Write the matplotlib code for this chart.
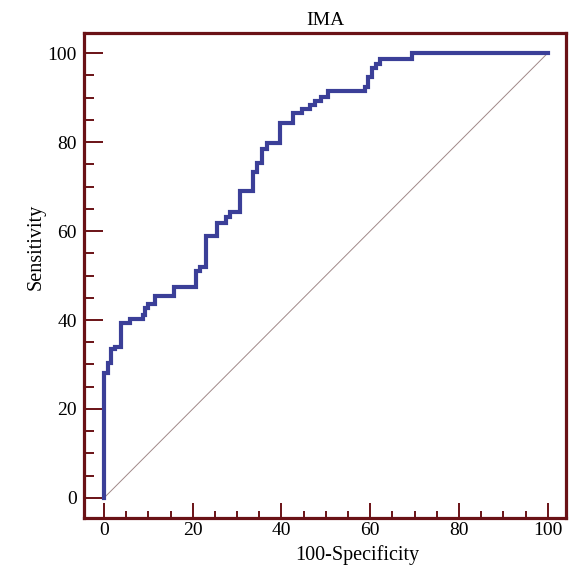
import matplotlib.pyplot as plt
from matplotlib.ticker import MultipleLocator

plt.rcParams['font.family'] = ['Liberation Serif', 'DejaVu Serif']

# ROC curve corner points (100-Specificity, Sensitivity), step drawn "post"
fpr = [0, 0, 1.0, 1.7, 2.6, 3.8, 5.9, 8.7, 9.2, 10.0, 11.5, 15.8, 20.7, 21.6,
       23.1, 25.5, 27.5, 28.4, 30.6, 33.5, 34.5, 35.6, 36.8, 39.6, 42.5, 44.7,
       46.4, 47.5, 48.8, 50.5, 58.8, 59.5, 60.5, 61.4, 62.3, 69.5, 100]
tpr = [0, 28.0, 30.3, 33.5, 34.0, 39.4, 40.2, 41.1, 42.8, 43.6, 45.4, 47.5, 51.0, 51.9,
       58.9, 61.9, 63.1, 64.3, 69.0, 73.3, 75.2, 78.4, 79.7, 84.3, 86.6, 87.4,
       88.3, 89.3, 90.2, 91.5, 92.4, 94.5, 96.6, 97.5, 98.6, 100, 100]
ref_line = [0, 100]
ticks = [0, 20, 40, 60, 80, 100]

spine_col = '#6a1216'

fig = plt.figure(figsize=(5.76, 5.71), dpi=100)
ax = fig.add_axes([0.1458, 0.0928, 0.8368, 0.8494])

ax.plot(ref_line, ref_line, color='#a08888', linewidth=0.7)
ax.plot(fpr, tpr, drawstyle='steps-post', color='#3b3f98', linewidth=3.0,
        solid_joinstyle='miter')

ax.set_xlim(-4.5, 104.1)
ax.set_ylim(-4.5, 104.5)
ax.set_xticks(ticks)
ax.set_yticks(ticks)
ax.xaxis.set_minor_locator(MultipleLocator(5))
ax.yaxis.set_minor_locator(MultipleLocator(5))

for s in ax.spines.values():
    s.set_color(spine_col)
    s.set_linewidth(2.3)

ax.tick_params(axis='both', which='both', direction='in', color=spine_col,
               width=1.4, labelsize=14)
ax.tick_params(axis='x', which='major', length=11, pad=3)
ax.tick_params(axis='x', which='minor', length=5)
ax.tick_params(axis='y', which='major', length=14, pad=5)
ax.tick_params(axis='y', which='minor', length=7)

ax.set_xlabel('100-Specificity', fontsize=14.5)
ax.set_ylabel('Sensitivity', fontsize=14.5)
ax.xaxis.set_label_coords(0.566, -0.055)
ax.yaxis.set_label_coords(-0.08, 0.559)
ax.set_title('IMA', fontsize=14, pad=6)

fig.savefig('out.png', dpi=100)
